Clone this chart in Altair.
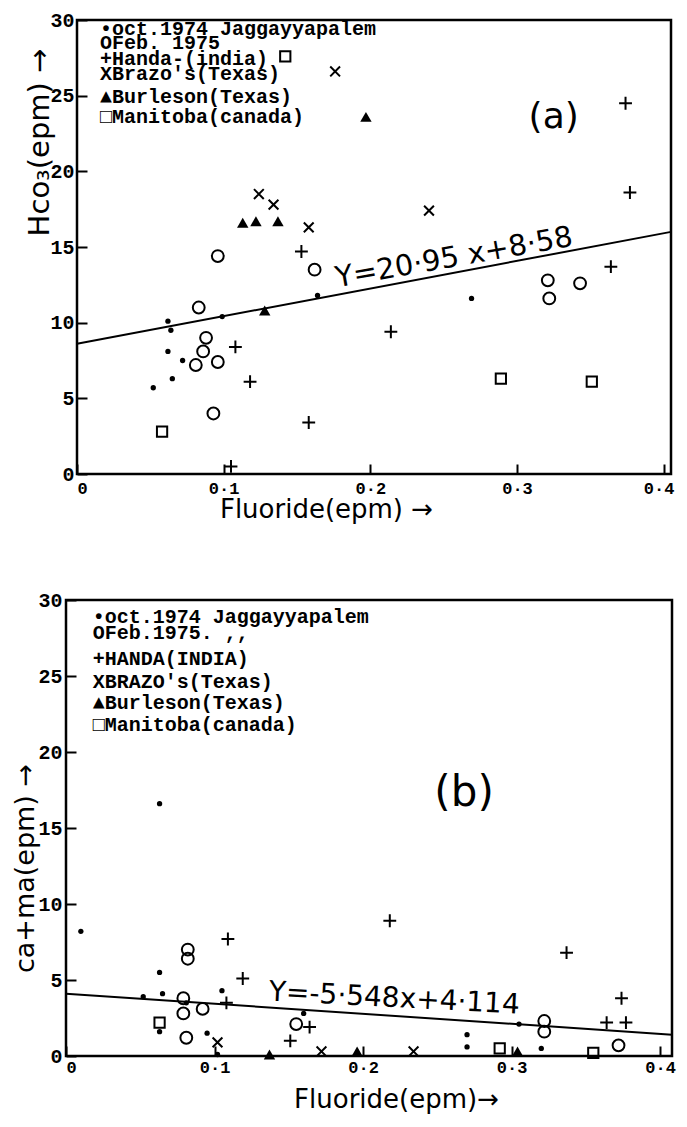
import altair as alt
import pandas as pd

# ---------------- data ----------------
# Panel (a): HCO3 (epm) vs Fluoride (epm)
a_oct_x = [0.099, 0.062, 0.064, 0.062, 0.072, 0.065, 0.052, 0.164, 0.269]
a_oct_y = [10.4, 10.1, 9.5, 8.1, 7.5, 6.3, 5.7, 11.8, 11.6]
a_feb_x = [0.096, 0.162, 0.083, 0.088, 0.086, 0.081, 0.096, 0.093, 0.321, 0.322, 0.343]
a_feb_y = [14.4, 13.5, 11.0, 9.0, 8.1, 7.2, 7.4, 4.0, 12.8, 11.6, 12.6]
a_handa_x = [0.153, 0.108, 0.118, 0.158, 0.105, 0.214, 0.364, 0.377, 0.374]
a_handa_y = [14.7, 8.4, 6.1, 3.4, 0.5, 9.4, 13.7, 18.6, 24.5]
a_brazos_x = [0.124, 0.134, 0.158, 0.240, 0.176]
a_brazos_y = [18.5, 17.8, 16.3, 17.4, 26.6]
a_burleson_x = [0.113, 0.122, 0.137, 0.128, 0.197]
a_burleson_y = [16.6, 16.7, 16.7, 10.8, 23.6]
a_manitoba_x = [0.058, 0.289, 0.351, 0.142]
a_manitoba_y = [2.8, 6.3, 6.1, 27.6]
a_line_x = [0.0, 0.405]
a_line_y = [8.6, 16.0]
a_equation = "Y=20·95 x+8·58"
a_tag = "(a)"
a_legend = ["•oct.1974 Jaggayyapalem", "OFeb. 1975", "+Handa-(india)",
            "XBrazo's(Texas)", "▲Burleson(Texas)", "□Manitoba(canada)"]

# Panel (b): Ca+Mg (epm) vs Fluoride (epm)
b_oct_x = [0.010, 0.063, 0.052, 0.065, 0.105, 0.081, 0.160, 0.063, 0.095, 0.102,
           0.305, 0.270, 0.270, 0.320, 0.063]
b_oct_y = [8.2, 5.5, 3.9, 4.1, 4.3, 3.5, 2.8, 1.6, 1.5, 0.1,
           2.1, 1.4, 0.6, 0.5, 16.6]
b_feb_x = [0.082, 0.082, 0.079, 0.092, 0.079, 0.155, 0.081, 0.322, 0.322, 0.372]
b_feb_y = [7.0, 6.4, 3.8, 3.1, 2.8, 2.1, 1.2, 2.3, 1.6, 0.7]
b_handa_x = [0.109, 0.119, 0.108, 0.164, 0.151, 0.218, 0.337, 0.374, 0.364, 0.377]
b_handa_y = [7.7, 5.1, 3.5, 1.9, 1.0, 8.9, 6.8, 3.8, 2.2, 2.2]
b_brazos_x = [0.102, 0.172, 0.234]
b_brazos_y = [0.9, 0.3, 0.3]
b_burleson_x = [0.137, 0.196, 0.304]
b_burleson_y = [0.1, 0.3, 0.3]
b_manitoba_x = [0.063, 0.292, 0.355]
b_manitoba_y = [2.2, 0.5, 0.2]
b_line_x = [0.0, 0.408]
b_line_y = [4.1, 1.4]
b_equation = "Y=-5·548x+4·114"
b_tag = "(b)"
b_legend = ["•oct.1974 Jaggayyapalem", "OFeb.1975.    ,,", "+HANDA(INDIA)",
            "XBRAZO's(Texas)", "▲Burleson(Texas)", "□Manitoba(canada)"]

x_ticks = [0.0, 0.1, 0.2, 0.3, 0.4]
y_ticks = [0, 5, 10, 15, 20, 25, 30]

# ---------------- styles ----------------
PLUS = "M-1,0H1M0,-1V1"
CROSS = "M-0.8,-0.8L0.8,0.8M-0.8,0.8L0.8,-0.8"
MARKS = {
    "oct74": dict(shape="circle", filled=True, size=28, strokeWidth=0),
    "feb75": dict(shape="circle", filled=False, size=140, strokeWidth=2),
    "handa": dict(shape=PLUS, filled=False, size=165, strokeWidth=2),
    "brazos": dict(shape=CROSS, filled=False, size=150, strokeWidth=2),
    "burleson": dict(shape="triangle-up", filled=True, size=130, strokeWidth=0),
    "manitoba": dict(shape="square", filled=False, size=105, strokeWidth=2),
}

LABEL_EXPR = "datum.value == 0 ? '0' : replace(format(datum.value, '.1f'), '.', '·')"


def panel(series, line_x, line_y, legend, leg_x, leg_y, leg_size, eq, eq_x, eq_y, eq_angle,
          eq_size, tag, tag_x, tag_y, tag_size, xmax, width, height,
          xtitle, ytitle, xt_x, xt_y, xt_size, yt_x, yt_y, yt_size, x_pad, y_pad, last_shift):
    xaxis = alt.Axis(values=x_ticks, labelExpr=LABEL_EXPR, domain=False, grid=False,
                     tickSize=10, offset=-10, tickColor="black", tickWidth=2,
                     labelPadding=x_pad, labelFont="Liberation Mono", labelFontWeight="bold",
                     labelFontSize=17, labelColor="black",
                     labelOffset=alt.condition("datum.value >= 0.4", alt.value(last_shift), alt.value(0)),
                     title=xtitle, titleFont="DejaVu Sans", titleFontSize=xt_size,
                     titleFontWeight="normal", titleColor="black",
                     titleX=xt_x, titleY=xt_y, titleAlign="center", titleBaseline="middle")
    yaxis = alt.Axis(values=y_ticks, domain=False, grid=False,
                     tickSize=10, offset=-10, tickColor="black", tickWidth=2,
                     labelPadding=y_pad, labelFont="Liberation Mono", labelFontWeight="bold",
                     labelFontSize=20, labelColor="black",
                     title=ytitle, titleFont="DejaVu Sans", titleFontSize=yt_size,
                     titleFontWeight="normal", titleColor="black", titleAngle=270,
                     titleX=yt_x, titleY=yt_y, titleAlign="center", titleBaseline="middle")
    X = alt.X("fluoride:Q", scale=alt.Scale(domain=[0, xmax], nice=False, zero=False), axis=xaxis)
    Y = alt.Y("value:Q", scale=alt.Scale(domain=[0, 30], nice=False), axis=yaxis)

    layers = []
    for name, (xs, ys) in series.items():
        st = MARKS[name]
        df = pd.DataFrame({"fluoride": xs, "value": ys})
        layers.append(alt.Chart(df).mark_point(
            shape=st["shape"], filled=st["filled"], size=st["size"],
            strokeWidth=st["strokeWidth"], color="black", opacity=1).encode(x=X, y=Y))

    layers.append(alt.Chart(pd.DataFrame({"fluoride": line_x, "value": line_y})).mark_line(
        color="black", strokeWidth=2).encode(x=X, y=Y))
    leg_df = pd.DataFrame({"fluoride": [leg_x] * len(legend), "value": leg_y, "label": legend})
    layers.append(alt.Chart(leg_df).mark_text(
        align="left", baseline="middle", font="Liberation Mono", fontWeight="bold",
        fontSize=leg_size, color="black").encode(x=X, y=Y, text="label:N"))
    eq_df = pd.DataFrame({"fluoride": [eq_x], "value": [eq_y], "label": [eq]})
    layers.append(alt.Chart(eq_df).mark_text(
        align="center", baseline="middle", font="DejaVu Sans", fontSize=eq_size,
        angle=eq_angle, color="black").encode(x=X, y=Y, text="label:N"))
    tag_df = pd.DataFrame({"fluoride": [tag_x], "value": [tag_y], "label": [tag]})
    layers.append(alt.Chart(tag_df).mark_text(
        align="center", baseline="middle", font="DejaVu Sans", fontSize=tag_size,
        color="black").encode(x=X, y=Y, text="label:N"))
    return alt.layer(*layers).properties(width=width, height=height)


def spacer():
    # tiny invisible cell, used only to set the horizontal offset of each panel
    return alt.Chart(pd.DataFrame({"v": [0]})).mark_point(opacity=0, size=1).properties(
        width=1, height=1, view=alt.ViewBackground(strokeOpacity=0))


series_a = {"oct74": (a_oct_x, a_oct_y), "feb75": (a_feb_x, a_feb_y),
            "handa": (a_handa_x, a_handa_y), "brazos": (a_brazos_x, a_brazos_y),
            "burleson": (a_burleson_x, a_burleson_y), "manitoba": (a_manitoba_x, a_manitoba_y)}
series_b = {"oct74": (b_oct_x, b_oct_y), "feb75": (b_feb_x, b_feb_y),
            "handa": (b_handa_x, b_handa_y), "brazos": (b_brazos_x, b_brazos_y),
            "burleson": (b_burleson_x, b_burleson_y), "manitoba": (b_manitoba_x, b_manitoba_y)}

chart_a = panel(series_a, a_line_x, a_line_y, a_legend, 0.0156,
                [29.4, 28.5, 27.4, 26.4, 24.9, 23.6], 20,
                a_equation, 0.257, 14.3, 350, 29,
                a_tag, 0.325, 23.6, 36,
                0.405, 594, 454,
                "Fluoride(epm) →", "Hco₃(epm) →", 249, 45, 26, -48, 122, 29, 6, 3, -5)
chart_b = panel(series_b, b_line_x, b_line_y, b_legend, 0.018,
                [28.9, 27.8, 26.1, 24.6, 23.2, 21.8], 20,
                b_equation, 0.221, 3.75, 3, 28,
                b_tag, 0.268, 17.3, 42,
                0.408, 606, 456,
                "Fluoride(epm)→", "ca+ma(epm) →", 330, 53, 26, -51, 268, 27, 3, 4, 0)

chart = alt.vconcat(
    alt.hconcat(spacer(), chart_a, spacing=14),
    alt.hconcat(spacer(), chart_b, spacing=0),
    spacing=64,
).properties(
    padding={"left": 0, "top": 0, "right": 0, "bottom": 0},
    background="white",
).configure_view(stroke="black", strokeWidth=2.5)

chart.save("out.html", embed_options={"renderer": "svg", "actions": False})
